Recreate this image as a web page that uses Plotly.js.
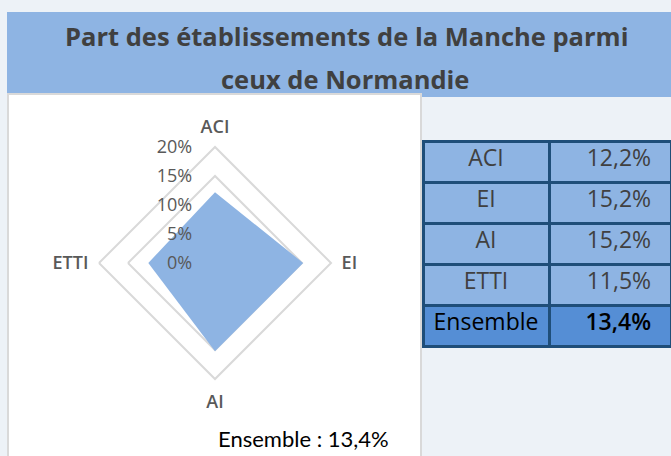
<!DOCTYPE html>
<html>
<head>
<meta charset="utf-8">
<script src="https://cdn.plot.ly/plotly-3.0.1.min.js"></script>
<style>
html,body{margin:0;padding:0;background:#EDF2F7;}
#chart{width:671px;height:456px;}
</style>
</head>
<body>
<div id="chart"></div>
<script>
// ---- data ----
const categories = ['ACI', 'EI', 'AI', 'ETTI'];
const shares = [12.2, 15.2, 15.2, 11.5];   // % of Normandy establishments located in Manche
const ensembleLabel = 'Ensemble';
const ensembleShare = 13.4;
const radialTicks = [0, 5, 10, 15, 20];
const titleLine1 = 'Part des établissements de la Manche parmi';
const titleLine2 = 'ceux de Normandie';

// ---- helpers ----
const W = 671, H = 456;
const fmt = v => v.toFixed(1).replace('.', ',') + '%';
const px = x => x / W;
const py = y => 1 - y / H;

const lightBlue = '#8EB4E3';
const midBlue = '#558ED5';
const navy = '#1F4E79';
const txt = '#404040';
const pad = '\u00A0\u00A0';
const figSpace = '\u2007';

// radar trace
const radar = {
  type: 'scatterpolar',
  r: shares.concat([shares[0]]),
  theta: categories.concat([categories[0]]),
  fill: 'toself',
  fillcolor: lightBlue,
  line: {width: 0, color: lightBlue},
  mode: 'lines',
  hoverinfo: 'skip',
  showlegend: false
};

// table trace (first row used as header)
const rowLabels = categories.concat([ensembleLabel]);
const rowValues = shares.concat([ensembleShare]).map(fmt);
const nRows = rowLabels.length;
const isLast = i => i === nRows - 1;
const fills = rowLabels.map((_, i) => isLast(i) ? midBlue : lightBlue);
const fontCols = rowLabels.map((_, i) => isLast(i) ? '#000000' : txt);
const weights = rowLabels.map(() => 400);
const valueWeights = rowLabels.map((_, i) => isLast(i) ? 600 : 400);
const valueTexts = rowValues.map(v => v + pad);

const table = {
  type: 'table',
  domain: {x: [px(423), 1], y: [py(360), py(141)]},
  columnwidth: [126, 122],
  header: {
    values: [rowLabels[0], valueTexts[0]],
    align: ['center', 'right'],
    height: 41,
    fill: {color: fills[0]},
    line: {color: navy, width: 3},
    font: {family: 'Open Sans, sans-serif', size: 23, color: fontCols[0]}
  },
  cells: {
    values: [rowLabels.slice(1), valueTexts.slice(1)],
    align: ['center', 'right'],
    height: 41,
    fill: {color: [fills.slice(1), fills.slice(1)]},
    line: {color: navy, width: 3},
    font: {family: 'Open Sans, sans-serif', size: 23,
           color: [fontCols.slice(1), fontCols.slice(1)],
           weight: [weights.slice(1), valueWeights.slice(1)]}
  }
};

const layout = {
  width: W, height: H,
  margin: {l: 0, r: 0, t: 0, b: 0},
  paper_bgcolor: '#EDF2F7',
  showlegend: false,
  shapes: [
    {type: 'rect', xref: 'paper', yref: 'paper', x0: px(7), x1: 1, y0: py(97), y1: py(12),
     fillcolor: lightBlue, line: {width: 0}, layer: 'below'},
    {type: 'rect', xref: 'paper', yref: 'paper', x0: px(8), x1: px(421), y0: py(470), y1: py(94),
     fillcolor: '#FFFFFF', line: {width: 2, color: '#D9D9D9'}, layer: 'below'}
  ],
  annotations: [
    {text: '<b>' + titleLine1 + '</b>', xref: 'paper', yref: 'paper', x: px(346), y: py(36),
     xanchor: 'center', yanchor: 'middle', showarrow: false,
     font: {family: 'Open Sans, sans-serif', size: 25.5, color: txt}},
    {text: '<b>' + titleLine2 + '</b>', xref: 'paper', yref: 'paper', x: px(345), y: py(79),
     xanchor: 'center', yanchor: 'middle', showarrow: false,
     font: {family: 'Open Sans, sans-serif', size: 25.5, color: txt}},
    {text: ensembleLabel + ' : ' + fmt(ensembleShare), xref: 'paper', yref: 'paper', x: px(391), y: py(438),
     xanchor: 'right', yanchor: 'middle', showarrow: false,
     font: {family: 'Lato, sans-serif', size: 22, color: '#000000'}}
  ],
  polar: {
    domain: {x: [px(99), px(331)], y: [py(379), py(147)]},
    bgcolor: 'rgba(0,0,0,0)',
    gridshape: 'linear',
    angularaxis: {
      direction: 'clockwise', rotation: 90,
      showgrid: false, showline: true, linecolor: '#D9D9D9', linewidth: 2,
      ticks: 'outside', ticklen: 6, tickcolor: 'rgba(0,0,0,0)',
      tickfont: {family: 'Open Sans, sans-serif', size: 18, weight: 600, color: '#595959'}
    },
    radialaxis: {
      range: [0, 20], tickvals: radialTicks,
      ticktext: radialTicks.map(v => (v < 10 ? figSpace : '') + v + '%'),
      angle: 90, side: 'counterclockwise', tickangle: 90,
      showline: false, ticks: 'outside', ticklen: 16, tickcolor: 'rgba(0,0,0,0)',
      gridcolor: '#D9D9D9', gridwidth: 2,
      tickfont: {family: 'Open Sans, sans-serif', size: 18, color: '#595959'}
    }
  }
};

Plotly.newPlot('chart', [radar, table], layout, {staticPlot: true});
</script>
</body>
</html>
